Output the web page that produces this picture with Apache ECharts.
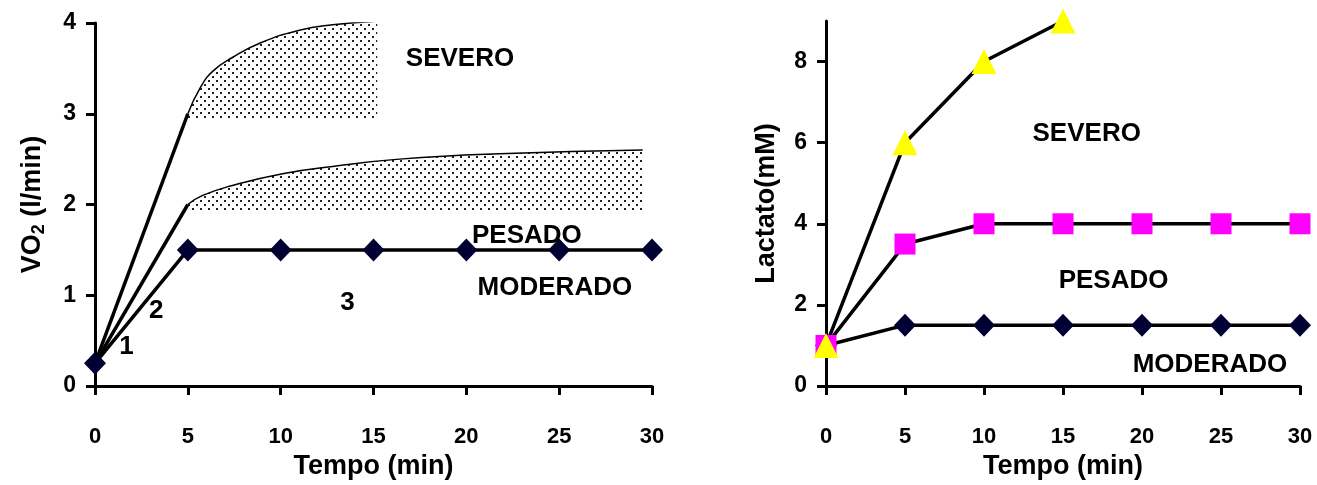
<!DOCTYPE html>
<html><head><meta charset="utf-8">
<script src="https://cdn.jsdelivr.net/npm/echarts@6/dist/echarts.min.js"></script>
<style>html,body{margin:0;padding:0;background:#fff}#c{width:1317px;height:485px}</style>
</head><body><div id="c"></div>
<script>
// ---- data: left panel (VO2, l/min) ----
const timeTicks = [0, 5, 10, 15, 20, 25, 30];
const vo2Moderado = [[0,0.25],[5,1.5],[10,1.5],[15,1.5],[20,1.5],[25,1.5],[30,1.5]];
const vo2PesadoRise = [[0,0.25],[5,2.0]];
const vo2SeveroRise = [[0,0.25],[5,3.0]];
const vo2PesadoCurve = [[5,2.0],[5.8,2.1],[7.4,2.21],[10.1,2.34],[12.8,2.42],[16.4,2.5],[21.8,2.56],[29.5,2.6]];
const vo2SeveroCurve = [[5,3.0],[5.65,3.28],[6.35,3.47],[7.4,3.62],[8.9,3.78],[11,3.92],[12.8,3.98],[15.2,4.02]];
const vo2PesadoBase = 1.93;
const vo2SeveroBase = 2.93;
const vo2Labels = [[1.7,0.47,'1'],[3.3,0.86,'2'],[13.6,0.95,'3'],[19.66,3.64,'SEVERO'],[23.26,1.69,'PESADO'],[24.77,1.115,'MODERADO']];
// ---- data: right panel (Lactato, mM) ----
const lacModerado = [[0,1],[5,1.5],[10,1.5],[15,1.5],[20,1.5],[25,1.5],[30,1.5]];
const lacPesado = [[0,1],[5,3.5],[10,4],[15,4],[20,4],[25,4],[30,4]];
const lacSevero = [[0,1],[5,6],[10,8],[15,9]];
const lacLabels = [[16.5,6.3,'SEVERO'],[18.2,2.66,'PESADO'],[24.3,0.6,'MODERADO']];

const FONT = '"Liberation Sans", Arial, sans-serif';
// dotted pattern
const pat = document.createElement('canvas');
pat.width = 8; pat.height = 8;
const pctx = pat.getContext('2d');
pctx.fillStyle = '#222';
pctx.fillRect(0,0,2,2);
pctx.fillRect(4,4,2,2);

function xAxis(gridIndex){
  return {type:'value', gridIndex, min:0, max:30, interval:5,
    name:'Tempo (min)', nameLocation:'middle', nameGap:67,
    nameTextStyle:{fontFamily:FONT, fontWeight:'bold', fontSize:27, color:'#000'},
    axisLine:{show:true, lineStyle:{color:'#000', width:3}},
    axisTick:{show:true, length:9, lineStyle:{color:'#000', width:3}},
    axisLabel:{margin:40, fontFamily:FONT, fontWeight:'bold', fontSize:22, color:'#000'},
    splitLine:{show:false}};
}
function yAxis(gridIndex, max, interval, name, gap){
  return {type:'value', gridIndex, min:0, max, interval,
    name, nameLocation:'middle', nameGap:gap,
    nameTextStyle:{fontFamily:FONT, fontWeight:'bold', fontSize:27, color:'#000',
      rich:{a:{fontFamily:FONT, fontWeight:'bold', fontSize:27, color:'#000'},
            s:{fontFamily:FONT, fontWeight:'bold', fontSize:18, color:'#000', padding:[12,0,0,0]}}},
    axisLine:{show:true, lineStyle:{color:'#000', width:3}},
    axisTick:{show:true, length:9, lineStyle:{color:'#000', width:3}},
    axisLabel:{margin:19, fontFamily:FONT, fontWeight:'bold', fontSize:23, color:'#000',
      showMaxLabel: max % interval === 0},
    splitLine:{show:false}};
}
function textSeries(xi, yi, labels){
  return {type:'scatter', xAxisIndex:xi, yAxisIndex:yi, symbolSize:0, silent:true, z:10,
    itemStyle:{opacity:1},
    data: labels.map(l => ({value:[l[0], l[1]], name:l[2]})),
    label:{show:true, position:'inside', formatter:p=>p.name, textBorderWidth:0, opacity:1,
      offset:[0,3], fontFamily:FONT, fontWeight:'bold', fontSize:26, color:'#000'}};
}
function line(xi, yi, data, extra){
  return Object.assign({type:'line', xAxisIndex:xi, yAxisIndex:yi, data,
    showSymbol:false, symbol:'none', lineStyle:{color:'#000', width:3.5}, silent:true}, extra||{});
}

const chart = echarts.init(document.getElementById('c'), null, {renderer:'canvas'});
chart.setOption({
  backgroundColor:'#fff',
  animation:false,
  grid:[
    {left:95, top:23, width:557, height:373},
    {left:826, top:21, width:474, height:376}
  ],
  xAxis:[xAxis(0), xAxis(1)],
  yAxis:[yAxis(0, 4, 1, '{a|VO}{s|2}{a| (l/min)}', 47), yAxis(1, 9, 2, 'Lactato(mM)', 46)],
  series:[
    line(0,0,vo2SeveroCurve,{smooth:true, lineStyle:{color:'#000', width:1.5},
      areaStyle:{origin:vo2SeveroBase, color:{image:pat, repeat:'repeat'}, opacity:1}}),
    line(0,0,vo2PesadoCurve,{smooth:true, lineStyle:{color:'#000', width:1.5},
      areaStyle:{origin:vo2PesadoBase, color:{image:pat, repeat:'repeat'}, opacity:1}}),
    line(0,0,vo2SeveroRise),
    line(0,0,vo2PesadoRise),
    line(0,0,vo2Moderado,{showSymbol:true, symbol:'diamond', symbolSize:[22,23],
      itemStyle:{color:'#000033'}}),
    textSeries(0,0,vo2Labels),
    line(1,1,lacModerado,{showSymbol:true, symbol:'diamond', symbolSize:[22,23], itemStyle:{color:'#000033'}}),
    line(1,1,lacPesado,{showSymbol:true, symbol:'rect', symbolSize:21, itemStyle:{color:'#FF00FF'}}),
    line(1,1,lacSevero,{showSymbol:true, symbol:'triangle', symbolSize:25, itemStyle:{color:'#FFFF00'}}),
    textSeries(1,1,lacLabels)
  ]
});
</script></body></html>
